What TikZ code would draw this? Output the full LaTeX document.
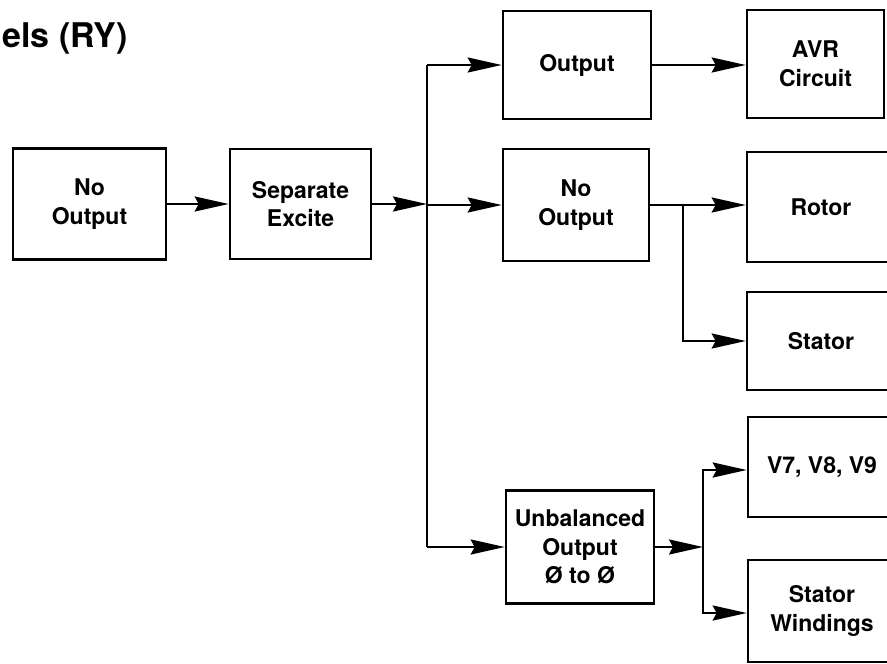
\documentclass[tikz,border=0pt]{standalone}
\usepackage{fontspec}
\setmainfont{TeX Gyre Heros}
\usetikzlibrary{arrows.meta}

\tikzset{
  box/.style={draw, line width=2.6pt, align=center, inner sep=0pt,
    font=\fontsize{23}{28.5}\selectfont\bfseries},
  rbox/.style={box, minimum width=148pt},
  flow/.style={line width=2.3pt, -{Stealth[length=34pt, width=15pt, inset=4pt]}},
  wire/.style={line width=2.3pt},
}

\begin{document}
\begin{tikzpicture}[x=1pt, y=-1pt]

% page, cut like the scan
\clip (0,0) rectangle (887,664);
\fill[white] (0,0) rectangle (887,664);

% Title (cut at the left)
\node[anchor=base east, inner sep=0pt, font=\fontsize{34}{40}\selectfont\bfseries]
  (title) at (128,47) {els (RY)};

% =========== first column ===========
\node[box, minimum width=153pt, minimum height=111pt] (noout) at (89.5,204) {No\\Output};
\node[box, minimum width=141pt, minimum height=110pt] (sepex) at (300.5,204) {Separate\\Excite};

% =========== second column ===========
\node[box, minimum width=148pt, minimum height=108pt] (output) at (577,65) {Output};
\node[box, minimum width=146pt, minimum height=112pt] (noout2) at (576,205) {No\\Output};
\node[box, minimum width=148pt, minimum height=113pt] (unbal) at (580,547) {Unbalanced\\Output\\Ø to Ø};

% =========== third column ===========
\node[box, minimum width=137pt, minimum height=108pt] (avr) at (815.5,64) {AVR\\Circuit};
\node[rbox, minimum height=110pt] (rotor) at (821,207) {Rotor};
\node[rbox, minimum height=98pt] (stator) at (821,341) {Stator};
\node[rbox, minimum height=100pt] (vsel) at (822,467) {V7, V8, V9};
\node[rbox, minimum height=102pt] (statwind) at (822,611) {Stator\\Windings};

% taps
\coordinate (bus) at (427,0);
\coordinate (tap) at (683,0);
\coordinate (split) at (703,547);

% Connectors
\draw[flow] (noout.east) -- (noout.east -| sepex.west);
\draw[flow] (sepex.east) -- (sepex.east -| bus);
\draw[wire] (bus |- output.west) -- (bus |- unbal.west);
\draw[flow] (bus |- output.west) -- (output.west);
\draw[flow] (bus |- noout2.west) -- (noout2.west);
\draw[flow] (bus |- unbal.west) -- (unbal.west);
\draw[flow] (output.east) -- (output.east -| avr.west);
\draw[flow] (noout2.east) -- (noout2.east -| rotor.west);
\draw[flow] (tap |- noout2.east) |- (stator.west);
\draw[flow] (unbal.east) -- (split);
\draw[flow] (split) |- ([yshift=-3pt]vsel.west);
\draw[flow] (split) |- ([yshift=-2pt]statwind.west);

\end{tikzpicture}
\end{document}
